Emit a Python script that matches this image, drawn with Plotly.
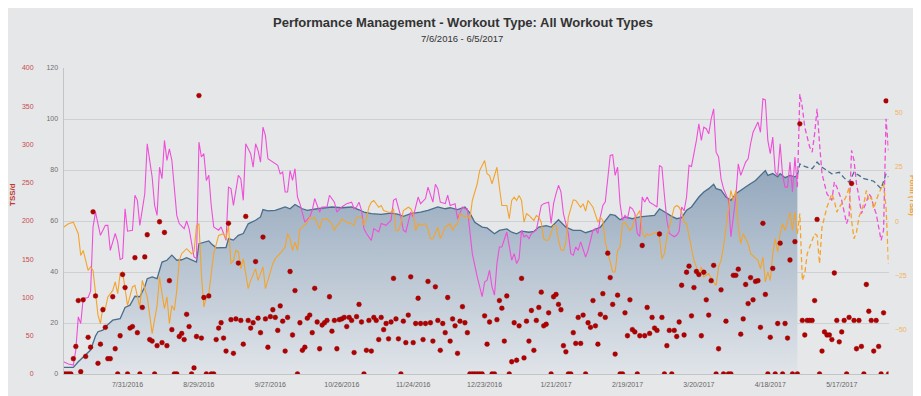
import plotly.graph_objects as go
import pandas as pd

START = pd.Timestamp("2016-07-05")

# ---- daily TSS (day 0 = 2016-07-05) ----
tss_values = [
    0, 0, 0, 0, 20, 36, 96, 3, 97, 23,
    48, 35, 212, 102, 14, 39, 84, 61, 20, 20,
    101, 33, 0, 50, 130, 113, 0, 60, 62, 152,
    54, 0, 87, 153, 182, 45, 43, 0, 37, 199,
    41, 185, 37, 122, 58, 0, 0, 49, 53, 45,
    78, 62, 0, 8, 49, 364, 47, 100, 0, 102,
    0, 0, 45, 60, 67, 47, 30, 197, 71, 27,
    72, 145, 70, 39, 206, 70, 60, 67, 147, 73,
    54, 179, 72, 35, 75, 84, 74, 57, 89, 69,
    30, 74, 134, 51, 109, 0, 67, 31, 35, 73,
    77, 54, 112, 68, 33, 64, 67, 70, 101, 56,
    70, 33, 71, 72, 74, 62, 74, 70, 28, 75,
    91, 68, 0, 31, 70, 30, 74, 70, 45, 74,
    58, 66, 46, 68, 125, 72, 46, 0, 69, 41,
    77, 127, 41, 66, 99, 66, 45, 66, 121, 67,
    43, 114, 70, 31, 66, 54, 100, 43, 72, 63,
    27, 69, 88, 67, 54, 0, 0, 0, 0, 0,
    0, 76, 39, 68, 0, 0, 71, 96, 86, 43,
    102, 0, 16, 67, 18, 63, 125, 21, 69, 43,
    83, 31, 70, 87, 107, 63, 65, 80, 0, 101,
    104, 91, 84, 37, 29, 0, 0, 54, 40, 74,
    40, 77, 0, 67, 61, 96, 63, 39, 78, 105,
    74, 158, 126, 91, 26, 103, 0, 0, 80, 50,
    97, 58, 55, 0, 50, 168, 50, 87, 53, 74,
    60, 57, 183, 74, 0, 37, 57, 0, 57, 49,
    68, 116, 51, 133, 141, 76, 113, 134, 130, 50,
    133, 97, 77, 122, 142, 0, 33, 110, 0, 69,
    0, 0, 129, 129, 137, 52, 72, 117, 92, 126,
    97, 121, 122, 61, 197, 104, 0, 48, 138, 0,
    66, 171, 0, 66, 47, 149, 0, 173, 0, 327,
    70, 51, 70, 70, 70, 96, 202, 0, 30, 55,
    51, 51, 45, 132, 70, 42, 55, 70, 0, 74,
    249, 70, 33, 70, 36, 0, 117, 82, 70, 30,
    70, 36, 0, 80, 357, 0,
]

# ---- Fitness (CTL) ----
ctl_days = [0, 4, 6, 8, 11, 13, 14, 16, 17, 20,
            23, 25, 27, 29, 31, 33, 34, 36, 38, 39,
            40, 42, 44, 46, 48, 50, 52, 54, 55, 59,
            60, 62, 66, 67, 69, 71, 73, 75, 78, 80,
            81, 83, 86, 90, 92, 94, 97, 99, 103, 109,
            113, 117, 120, 122, 125, 129, 133, 136, 138, 141,
            145, 148, 152, 155, 157, 160, 163, 165, 167, 170,
            172, 175, 177, 180, 182, 184, 186, 189, 191, 193,
            196, 198, 201, 204, 207, 210, 212, 215, 218, 220,
            222, 224, 226, 228, 231, 234, 237, 240, 242, 245,
            247, 249, 251, 253, 255, 258, 260, 262, 264, 265,
            267, 269, 271, 273, 275, 278, 281, 283, 285, 286,
            288, 290, 291, 293, 295, 297, 298]
ctl_values = [2.6, 2.6, 4.8, 6.8, 9.4, 14.9, 16.6, 17.2, 18.5, 21.1,
              21.7, 26.1, 27.0, 30.5, 30.3, 34.2, 37.4, 38.1, 37.4, 40.7,
              43.9, 44.6, 46.6, 44.6, 44.8, 45.6, 44.6, 43.9, 51.1, 52.2,
              51.1, 49.5, 49.6, 53.1, 52.5, 54.4, 55.1, 58.9, 60.3, 61.6,
              64.5, 64.0, 64.2, 65.5, 64.8, 66.5, 64.8, 64.2, 64.8, 65.5,
              65.2, 65.5, 64.4, 63.5, 62.9, 62.6, 63.1, 62.6, 61.8, 62.9,
              63.5, 64.2, 65.5, 64.8, 65.2, 64.5, 65.5, 63.2, 59.5, 57.6,
              57.3, 55.0, 56.3, 56.9, 55.6, 55.0, 56.0, 55.6, 55.9, 57.6,
              58.2, 57.6, 60.5, 57.6, 56.3, 56.3, 55.4, 56.3, 57.6, 60.2,
              62.6, 62.2, 60.5, 61.6, 60.9, 61.6, 61.8, 62.2, 64.8, 62.9,
              61.8, 60.9, 61.3, 64.2, 65.5, 69.4, 71.4, 72.7, 74.4, 72.7,
              72.1, 69.4, 68.1, 70.7, 72.1, 74.0, 75.9, 77.9, 79.8, 77.9,
              78.6, 77.3, 78.6, 77.0, 77.9, 77.3, 77.9]
ctl_future_days = [298, 299, 301, 304, 306, 308, 310, 312, 315, 317,
                   319, 321, 323, 325, 327, 329, 332, 334, 335]
ctl_future_values = [77.9, 82.4, 81.4, 80.5, 83.1, 81.1, 79.8, 78.5, 79.1, 76.9,
                     75.2, 79.1, 77.9, 76.6, 76.2, 75.6, 72.7, 78.5, 77.2]

# ---- Fatigue (ATL) ----
atl_days = [0, 2, 4, 5, 6, 7, 8, 10, 11, 12,
            13, 14, 15, 17, 18, 19, 21, 22, 23, 24,
            25, 26, 28, 29, 30, 31, 33, 34, 36, 37,
            38, 39, 40, 41, 42, 43, 44, 46, 47, 49,
            50, 51, 53, 54, 55, 56, 57, 58, 59, 60,
            61, 63, 64, 65, 66, 67, 68, 69, 71, 72,
            73, 74, 76, 77, 78, 79, 80, 81, 82, 83,
            85, 87, 88, 89, 90, 91, 92, 93, 94, 95,
            96, 98, 100, 101, 102, 104, 105, 107, 108, 110,
            111, 113, 115, 117, 118, 119, 120, 121, 122, 123,
            125, 126, 128, 129, 131, 133, 134, 135, 137, 138,
            139, 141, 142, 144, 145, 147, 148, 149, 150, 151,
            152, 153, 155, 156, 157, 159, 160, 162, 163, 164,
            165, 166, 168, 170, 171, 172, 173, 174, 175, 176,
            177, 178, 180, 181, 182, 183, 184, 185, 186, 187,
            188, 189, 190, 192, 194, 195, 197, 198, 199, 200,
            201, 202, 203, 205, 206, 207, 208, 209, 210, 212,
            213, 214, 215, 216, 217, 218, 219, 220, 221, 222,
            223, 224, 225, 226, 227, 228, 229, 230, 231, 232,
            233, 234, 235, 236, 237, 238, 239, 241, 242, 243,
            244, 245, 246, 247, 248, 249, 250, 251, 252, 253,
            254, 255, 256, 257, 258, 259, 260, 261, 262, 263,
            264, 265, 266, 267, 268, 270, 271, 273, 274, 275,
            277, 278, 279, 280, 282, 283, 284, 285, 286, 287,
            288, 289, 290, 291, 292, 293, 294, 295, 296, 297,
            298]
atl_values = [4.8, 3.9, 3.5, 9.4, 22.4, 19.8, 29.6, 30.0, 32.5, 57.7,
              63.5, 59.0, 54.4, 58.3, 58.3, 48.5, 55.1, 51.8, 44.9, 45.3,
              64.8, 56.0, 56.4, 70.1, 68.1, 58.3, 70.7, 90.3, 77.2, 66.1,
              62.2, 81.1, 76.6, 91.6, 83.8, 88.3, 83.8, 62.2, 59.0, 57.0,
              60.0, 57.0, 45.9, 45.3, 90.9, 85.1, 86.4, 75.9, 77.9, 66.0,
              57.7, 56.4, 57.7, 55.1, 52.4, 73.3, 72.7, 66.1, 77.9, 76.6,
              68.1, 90.3, 86.4, 81.1, 90.3, 87.7, 83.1, 96.8, 93.5, 84.4,
              83.1, 81.8, 78.5, 79.2, 71.4, 71.4, 79.8, 75.9, 80.5, 69.4,
              66.8, 59.6, 61.6, 64.2, 68.8, 63.5, 65.5, 65.5, 70.1, 67.4,
              63.5, 65.5, 66.8, 67.4, 64.8, 65.5, 67.4, 64.2, 57.0, 55.1,
              52.4, 57.0, 55.7, 59.0, 58.3, 60.3, 68.1, 68.8, 61.6, 56.4,
              55.7, 63.5, 61.6, 69.4, 66.8, 68.8, 73.3, 70.7, 67.4, 74.4,
              72.7, 67.4, 66.8, 70.1, 66.1, 66.8, 60.9, 65.5, 64.8, 64.8,
              55.0, 47.2, 38.1, 30.3, 36.1, 36.8, 40.7, 34.2, 30.9, 43.3,
              49.8, 49.8, 55.7, 49.8, 44.6, 47.2, 43.3, 45.3, 56.4, 53.8,
              54.4, 53.1, 55.1, 56.4, 66.1, 66.8, 67.4, 59.0, 66.8, 70.7,
              74.0, 71.4, 62.9, 55.1, 47.2, 46.6, 49.8, 48.5, 51.8, 45.9,
              48.5, 52.4, 56.4, 57.0, 55.1, 61.6, 66.1, 67.5, 76.6, 85.7,
              86.0, 77.9, 81.1, 66.8, 60.3, 62.2, 60.9, 65.5, 64.8, 63.0,
              55.1, 54.0, 69.4, 67.4, 69.4, 67.4, 66.8, 65.5, 81.8, 81.1,
              70.1, 60.3, 55.1, 54.4, 53.8, 54.5, 56.0, 65.5, 64.0, 69.4,
              81.8, 81.4, 86.4, 91.6, 98.1, 91.6, 96.8, 96.2, 94.2, 100.1,
              104.0, 87.0, 85.1, 76.6, 72.7, 68.1, 53.8, 69.4, 82.4, 77.9,
              83.1, 84.4, 90.3, 94.8, 98.8, 94.8, 107.9, 107.5, 91.6, 86.4,
              92.9, 79.2, 77.9, 90.3, 77.9, 73.3, 73.3, 83.1, 71.4, 85.1,
              73.3]
atl_future_days = [298, 299, 300, 301, 303, 304, 305, 306, 307, 308,
                   310, 312, 313, 314, 316, 317, 318, 319, 320, 321,
                   322, 323, 324, 326, 327, 328, 329, 330, 331, 332,
                   333, 334, 335]
atl_future_values = [73.3, 109.8, 104.6, 96.8, 89.0, 87.0, 94.2, 104.0, 90.3, 78.5,
                     70.7, 68.1, 75.3, 73.3, 68.1, 62.9, 59.0, 62.0, 87.7, 83.8,
                     74.6, 69.4, 62.9, 67.4, 70.7, 69.4, 65.5, 62.9, 57.7, 52.4,
                     56.4, 100.1, 87.7]

# ---- Form (TSB) ----
tsb_days = [0, 2, 4, 6, 7, 8, 10, 11, 12, 13,
            14, 15, 16, 17, 18, 20, 21, 22, 23, 24,
            25, 26, 28, 29, 31, 32, 34, 35, 36, 38,
            39, 40, 41, 42, 43, 44, 45, 46, 47, 48,
            50, 52, 53, 54, 55, 56, 57, 58, 59, 60,
            61, 63, 65, 66, 67, 68, 69, 70, 71, 72,
            73, 74, 75, 76, 78, 79, 80, 81, 82, 83,
            85, 86, 88, 89, 90, 91, 92, 93, 94, 95,
            96, 97, 99, 100, 101, 102, 104, 105, 107, 109,
            110, 111, 112, 113, 114, 115, 117, 118, 119, 121,
            122, 123, 124, 125, 126, 128, 129, 130, 132, 133,
            134, 135, 136, 137, 138, 140, 141, 142, 143, 144,
            145, 147, 148, 149, 150, 152, 153, 154, 155, 157,
            158, 159, 160, 161, 163, 164, 165, 166, 168, 169,
            171, 172, 173, 174, 175, 176, 177, 178, 180, 181,
            182, 183, 184, 185, 186, 187, 188, 189, 191, 192,
            193, 194, 195, 196, 197, 199, 200, 201, 202, 203,
            204, 205, 207, 208, 210, 211, 212, 213, 215, 216,
            217, 218, 219, 220, 222, 223, 224, 225, 226, 227,
            228, 230, 231, 232, 234, 235, 236, 237, 238, 239,
            241, 242, 243, 244, 245, 246, 248, 249, 250, 251,
            252, 253, 255, 256, 257, 258, 259, 260, 262, 263,
            265, 266, 267, 268, 269, 270, 271, 272, 273, 274,
            275, 276, 278, 279, 281, 282, 283, 284, 285, 286,
            287, 288, 289, 290, 291, 292, 293, 294, 295, 296,
            297, 298]
tsb_values = [-2.8, -1.2, -0.5, -5.8, -15.8, -13.5, -22.7, -21.1, -22.7, -33.4,
              -43.3, -47.2, -39.5, -40.3, -34.9, -31.9, -28.0, -33.4, -24.2, -23.4,
              -31.9, -38.8, -30.3, -29.6, -39.5, -27.3, -34.9, -42.6, -51.8, -38.8,
              -25.7, -33.4, -40.3, -34.9, -47.2, -38.8, -41.1, -31.9, -18.1, -15.0,
              -12.7, -15.0, -14.2, -2.0, -1.2, -24.2, -39.5, -34.9, -33.4, -24.2,
              -15.0, -6.6, -5.8, -8.1, -2.0, -19.6, -18.1, -13.5, -14.2, -21.9,
              -17.3, -24.2, -31.1, -27.3, -21.9, -27.3, -24.2, -21.1, -31.1, -27.3,
              -19.6, -17.3, -15.0, -13.5, -11.9, -5.8, -8.1, -13.5, -9.7, -13.5,
              -3.5, -2.8, -0.5, 1.8, 1.1, 1.8, -3.5, 0.6, 1.1, -1.2,
              -4.3, -2.0, -1.2, 1.1, 0.3, -0.5, -1.2, -2.0, 1.8, 1.8,
              -2.0, 1.1, 6.4, 8.7, 9.5, 6.4, 7.2, 4.9, 4.1, 4.1,
              5.7, -4.3, -4.3, -1.2, 4.9, 6.4, 5.7, 3.4, -4.3, -1.2,
              -2.0, -1.2, -3.5, -8.1, -8.1, -2.8, -8.1, -5.8, -2.8, -1.2,
              -4.3, -2.0, -1.2, 3.4, 1.8, 2.6, 0.7, 9.5, 17.2, 23.3,
              27.9, 21.8, 21.0, 17.2, 21.0, 24.8, 15.6, 7.2, 7.2, 1.1,
              9.5, 11.0, 9.5, 11.8, 9.5, -0.5, 3.4, 2.6, 0.3, 2.6,
              1.8, -0.5, -8.1, -8.9, -8.6, -2.0, -2.0, -8.9, -13.2, -13.5,
              -9.7, 1.8, 9.8, 9.5, 6.4, 8.0, 4.6, 9.5, 6.4, 2.6,
              -0.5, 1.8, 0.3, -9.7, -18.1, -23.4, -23.4, -13.5, -11.9, -1.2,
              -0.5, -4.3, -2.8, 1.1, 4.9, -5.1, -7.4, -5.8, -6.6, -5.8,
              -5.1, -7.4, -17.3, -15.0, -7.4, -2.8, 6.4, 7.2, 6.4, 4.1,
              -0.5, -1.2, -13.5, -18.1, -21.1, -25.0, -21.1, -25.7, -24.2, -26.5,
              -29.6, -21.1, -18.1, -11.9, -2.8, 4.9, 14.1, 9.5, 14.1, -2.8,
              -10.4, -5.8, -10.4, -15.0, -17.3, -18.1, -21.9, -16.5, -28.0, -23.4,
              -27.3, -15.0, -8.1, -14.2, -5.8, -1.2, -4.3, 0.3, 4.1, -4.3,
              4.1, -5.8]
tsb_future_days = [298, 299, 300, 301, 302, 304, 305, 306, 307, 308,
                   309, 310, 312, 313, 314, 315, 317, 318, 319, 320,
                   321, 322, 323, 325, 326, 327, 328, 329, 330, 331,
                   333, 334, 335]
tsb_future_values = [-5.8, 3.5, -27.3, -24.2, -15.0, -8.9, -5.8, -6.6, -19.6, -2.8,
                     1.8, 6.4, 12.6, 9.5, 4.1, 6.4, 9.5, 11.8, 15.6, 0.3,
                     -8.1, -5.1, 1.8, 8.0, 14.1, 9.5, 11.0, 5.7, 9.5, 12.6,
                     17.2, 6.4, -19.6]

tick_dates = ["2016-07-31", "2016-08-29", "2016-09-27", "2016-10-26", "2016-11-24",
              "2016-12-23", "2017-01-21", "2017-02-19", "2017-03-20", "2017-04-18",
              "2017-05-17"]
tss_ticks = [0, 50, 100, 150, 200, 250, 300, 350, 400]
ctl_ticks = [0, 20, 40, 60, 80, 100, 120]
tsb_ticks = [-50, -25, 0, 25, 50]


def to_dates(days):
    return [(START + pd.Timedelta(days=int(d))).strftime("%Y-%m-%d") for d in days]


# page body adds an 8px margin, so the figure is drawn 8px smaller and
# every target position (in window pixels) is shifted by OFF
OFF = 8
W, H = 921 - OFF, 396 - OFF
ML, MR, MT, MB = 2, 2, 68 - OFF, 22
PW = W - ML - MR
PH = H - MT - MB
X0, X1 = 63.5, 888.5  # plot area left/right in window pixels


def px(x):
    return (x - OFF - ML) / PW


def py(y):
    return (MT + PH - (y - OFF)) / PH


BG = "#e6e7e9"
CTL_C = "#4b6d8c"
ATL_C = "#ee4fd8"
TSB_C = "#f3a42c"
TSS_C = "#b10000"
FONT = "Liberation Sans, Arial, sans-serif"

fig = go.Figure()

fig.add_trace(go.Scatter(
    x=to_dates(ctl_days), y=ctl_values, mode="lines",
    line=dict(color=CTL_C, width=1.3),
    fill="tozeroy",
    fillgradient=dict(type="vertical", start=0, stop=80,
                      colorscale=[[0, "rgb(224,228,233)"], [1, "rgb(148,168,189)"]]),
    yaxis="y", hoverinfo="skip", showlegend=False))
fig.add_trace(go.Scatter(
    x=to_dates(ctl_future_days), y=ctl_future_values, mode="lines",
    line=dict(color=CTL_C, width=1.3, dash="5px,3px"),
    yaxis="y", hoverinfo="skip", showlegend=False))
fig.add_trace(go.Scatter(
    x=to_dates(atl_days), y=atl_values, mode="lines",
    line=dict(color=ATL_C, width=1.1),
    yaxis="y", hoverinfo="skip", showlegend=False))
fig.add_trace(go.Scatter(
    x=to_dates(atl_future_days), y=atl_future_values, mode="lines",
    line=dict(color=ATL_C, width=1.3, dash="5px,3px"),
    yaxis="y", hoverinfo="skip", showlegend=False))
fig.add_trace(go.Scatter(
    x=to_dates(tsb_days), y=tsb_values, mode="lines",
    line=dict(color=TSB_C, width=1.1),
    yaxis="y2", hoverinfo="skip", showlegend=False))
fig.add_trace(go.Scatter(
    x=to_dates(tsb_future_days), y=tsb_future_values, mode="lines",
    line=dict(color=TSB_C, width=1.3, dash="5px,3px"),
    yaxis="y2", hoverinfo="skip", showlegend=False))
fig.add_trace(go.Scatter(
    x=to_dates(range(len(tss_values))), y=tss_values, mode="markers",
    marker=dict(color=TSS_C, size=4.8, line=dict(color="#8a0000", width=0.4)),
    yaxis="y3", hoverinfo="skip", showlegend=False))

end_day = len(tss_values) - 1
fig.update_layout(
    width=W, height=H,
    margin=dict(l=ML, r=MR, t=MT, b=MB, pad=0),
    paper_bgcolor=BG, plot_bgcolor=BG,
    font=dict(family=FONT, size=7, color="#666"),
    showlegend=False,
    xaxis=dict(
        domain=[px(X0), px(X1)],
        type="date",
        range=[to_dates([0])[0], to_dates([end_day])[0]],
        tickvals=tick_dates, tickformat="%-m/%-d/%Y",
        tickfont=dict(size=7, color="#666"),
        ticks="outside", ticklen=4, tickcolor="rgba(0,0,0,0)",
        showgrid=False, zeroline=False,
        showline=True, linecolor="#c3c4c6", linewidth=1,
    ),
    yaxis=dict(
        range=[0, 120], tickvals=ctl_ticks,
        tickfont=dict(size=7, color="#6f6f6f"),
        ticks="outside", ticklen=3, tickcolor="rgba(0,0,0,0)",
        showgrid=True, gridcolor="#cfd0d3", gridwidth=1,
        zeroline=False, showline=True, linecolor="#c3c4c6", linewidth=1,
    ),
    yaxis2=dict(
        overlaying="y", side="right", anchor="x",
        range=[-70.4, 70.5], tickvals=tsb_ticks,
        tickfont=dict(size=7, color="#f2b45a"),
        ticks="outside", ticklen=4, tickcolor="rgba(0,0,0,0)",
        showgrid=False, zeroline=False, showline=False,
    ),
    yaxis3=dict(
        overlaying="y", side="left", anchor="free", position=px(38),
        range=[0, 400], tickvals=tss_ticks,
        tickfont=dict(size=7, color="#c94a4a"),
        ticks="outside", ticklen=3, tickcolor="rgba(0,0,0,0)",
        showgrid=False, zeroline=False, showline=False,
    ),
    annotations=[
        dict(text="<b>Performance Management - Workout Type: All Workout Types</b>",
             x=px(463), y=py(22), xref="paper", yref="paper", showarrow=False,
             xanchor="center", yanchor="middle",
             font=dict(size=13, color="#333", family=FONT)),
        dict(text="7/6/2016 - 6/5/2017",
             x=px(462), y=py(38.5), xref="paper", yref="paper", showarrow=False,
             xanchor="center", yanchor="middle",
             font=dict(size=9.5, color="#333", family=FONT)),
        dict(text="<b>TSS/d</b>", textangle=-90,
             x=px(12), y=py(195), xref="paper", yref="paper", showarrow=False,
             xanchor="center", yanchor="middle",
             font=dict(size=8, color="#c0392b", family=FONT)),
        dict(text="<b>Form (TSB)</b>", textangle=90,
             x=px(913), y=py(195), xref="paper", yref="paper", showarrow=False,
             xanchor="center", yanchor="middle",
             font=dict(size=7.5, color="#f0a030", family=FONT)),
    ],
)

fig.write_html("out.html")
